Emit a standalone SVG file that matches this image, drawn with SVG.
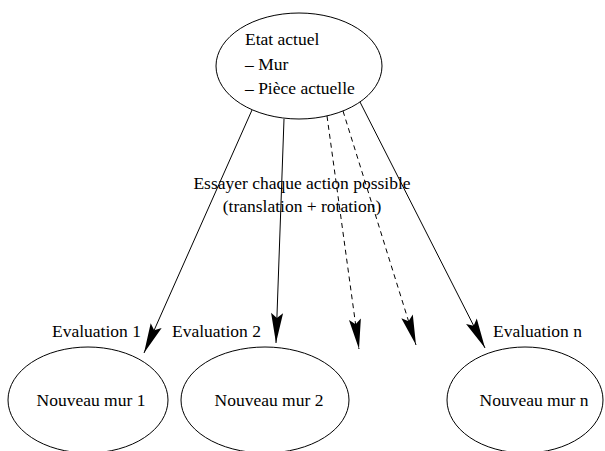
<svg xmlns="http://www.w3.org/2000/svg" width="605" height="451" viewBox="0 0 605 451">
  <style>
    .node { fill: none; stroke: #000; stroke-width: 1; }
    .edge { fill: none; stroke: #000; stroke-width: 1; marker-end: url(#arrow); }
    .dash { stroke-dasharray: 5 4; }
    text { font-family: "Liberation Serif", "Times New Roman", serif; font-size: 17.5px; fill: #000; }
  </style>
  <defs>
    <marker id="arrow" viewBox="-31 -7 32 14" markerWidth="32" markerHeight="14" refX="0" refY="0" orient="auto" markerUnits="userSpaceOnUse">
      <path d="M0,0 L-30,-6 L-25,0 L-30,6 Z" fill="#000"/>
    </marker>
  </defs>
  <rect width="605" height="451" fill="#fff"/>

  <g id="etat">
    <ellipse class="node" cx="299" cy="66" rx="83" ry="53"/>
    <text x="245" y="45">Etat actuel</text>
    <text x="245" y="70">– Mur</text>
    <text x="245" y="94">– Pièce actuelle</text>
  </g>

  <g id="mur1">
    <ellipse class="node" cx="88" cy="400" rx="80" ry="53"/>
    <text x="91" y="406" text-anchor="middle">Nouveau mur 1</text>
  </g>
  <g id="mur2">
    <ellipse class="node" cx="265" cy="400" rx="84" ry="53"/>
    <text x="269" y="406" text-anchor="middle">Nouveau mur 2</text>
  </g>
  <g id="murn">
    <ellipse class="node" cx="525" cy="400" rx="78" ry="53"/>
    <text x="534" y="406" text-anchor="middle">Nouveau mur n</text>
  </g>

  <g id="connectors">
    <line class="edge" x1="252" y1="110" x2="144" y2="353"/>
    <line class="edge" x1="284" y1="119" x2="276" y2="343"/>
    <line class="edge dash" x1="327" y1="116" x2="359" y2="349"/>
    <line class="edge dash" x1="343" y1="111" x2="416" y2="345"/>
    <line class="edge" x1="360" y1="102" x2="485" y2="348"/>
    <text x="302" y="189" text-anchor="middle">Essayer chaque action possible</text>
    <text x="302" y="212" text-anchor="middle">(translation + rotation)</text>
    <text x="52" y="337">Evaluation 1</text>
    <text x="172" y="337">Evaluation 2</text>
    <text x="493" y="337">Evaluation n</text>
  </g>
</svg>
